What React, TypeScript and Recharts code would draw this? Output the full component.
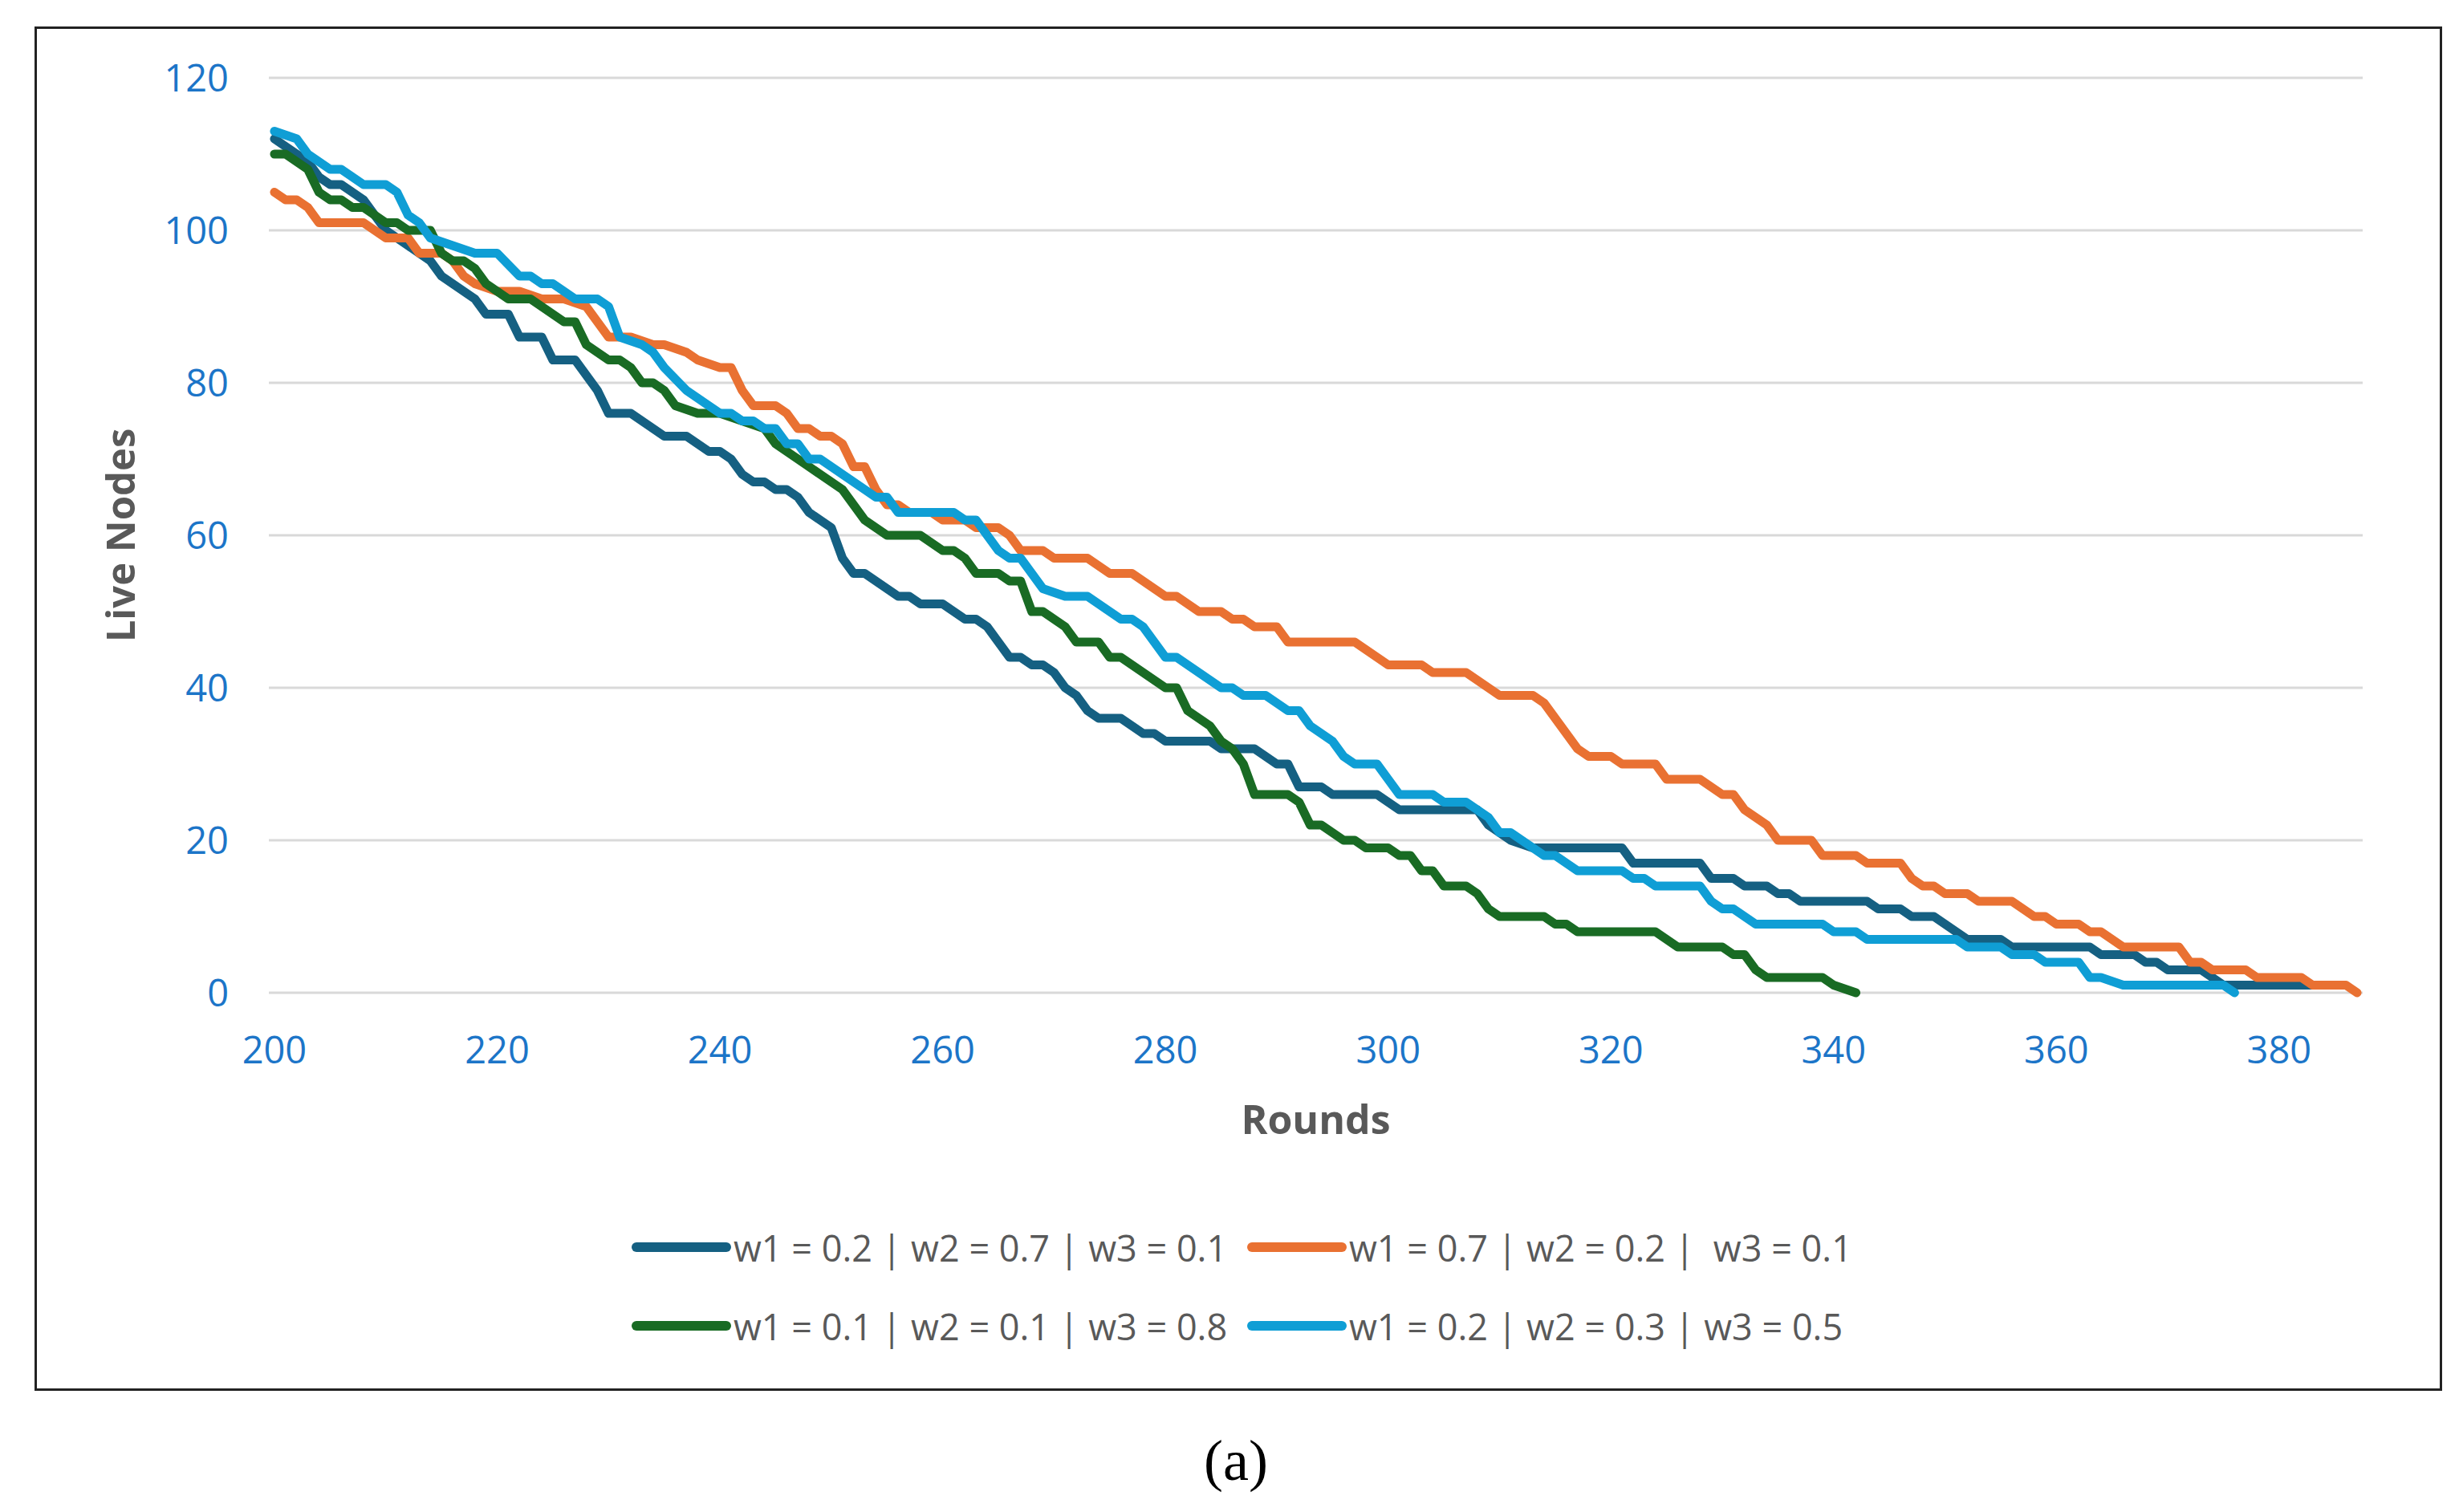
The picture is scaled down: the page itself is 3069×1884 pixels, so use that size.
import React from 'react';
import { LineChart, Line, XAxis, YAxis, CartesianGrid } from 'recharts';

// Page / plot geometry (px) for the 3069x1884 capture
const W = 3069;
const H = 1884;
const PLOT_TOP = 97;
const PLOT_BOTTOM = 1237;
const PLOT_LEFT = 335;
const PLOT_RIGHT = 2944;
const CHART_H = 1480;
const X_AXIS_H = 60;

const FONT = '"Open Sans", "Noto Sans", sans-serif';
const TICK_BLUE = '#1c75c8';
const TITLE_GREY = '#595959';

const xTicks = [200, 220, 240, 260, 280, 300, 320, 340, 360, 380];
const yTicks = [0, 20, 40, 60, 80, 100, 120];

const seriesNames = [
  'w1 = 0.2 | w2 = 0.7 | w3 = 0.1',
  'w1 = 0.7 | w2 = 0.2 |  w3 = 0.1',
  'w1 = 0.1 | w2 = 0.1 | w3 = 0.8',
  'w1 = 0.2 | w2 = 0.3 | w3 = 0.5',
];
const seriesColors = ['#156082', '#e97132', '#196b24', '#0f9ed5'];

// [round, live nodes] vertices
const darkBlue: [number, number][] = [
  [200, 112], [201, 111], [203, 109], [204, 107], [205, 106], [206, 106], [207, 105], [208, 104],
  [209, 102], [210, 100], [211, 99], [212, 98], [213, 97], [214, 96], [215, 94], [216, 93],
  [217, 92], [218, 91], [219, 89], [221, 89], [222, 86], [224, 86], [225, 83], [227, 83],
  [228, 81], [229, 79], [230, 76], [232, 76], [233, 75], [234, 74], [235, 73], [237, 73],
  [238, 72], [239, 71], [240, 71], [241, 70], [242, 68], [243, 67], [244, 67], [245, 66],
  [246, 66], [247, 65], [248, 63], [249, 62], [250, 61], [251, 57], [252, 55], [253, 55],
  [254, 54], [255, 53], [256, 52], [257, 52], [258, 51], [260, 51], [261, 50], [262, 49],
  [263, 49], [264, 48], [265, 46], [266, 44], [267, 44], [268, 43], [269, 43], [270, 42],
  [271, 40], [272, 39], [273, 37], [274, 36], [276, 36], [277, 35], [278, 34], [279, 34],
  [280, 33], [284, 33], [285, 32], [288, 32], [289, 31], [290, 30], [291, 30], [292, 27],
  [294, 27], [295, 26], [299, 26], [300, 25], [301, 24], [308, 24], [309, 22], [310, 21],
  [311, 20], [313, 19], [321, 19], [322, 17], [328, 17], [329, 15], [331, 15], [332, 14],
  [334, 14], [335, 13], [336, 13], [337, 12], [343, 12], [344, 11], [346, 11], [347, 10],
  [349, 10], [350, 9], [351, 8], [352, 7], [355, 7], [356, 6], [363, 6], [364, 5],
  [367, 5], [368, 4], [369, 4], [370, 3], [373, 3], [375, 1], [384, 1],
];

const orange: [number, number][] = [
  [200, 105], [201, 104], [202, 104], [203, 103], [204, 101], [208, 101], [209, 100], [210, 99],
  [212, 99], [213, 97], [215, 97], [216, 96], [217, 94], [218, 93], [220, 92], [222, 92],
  [224, 91], [226, 91], [228, 90], [229, 88], [230, 86], [232, 86], [234, 85], [235, 85],
  [237, 84], [238, 83], [240, 82], [241, 82], [242, 79], [243, 77], [245, 77], [246, 76],
  [247, 74], [248, 74], [249, 73], [250, 73], [251, 72], [252, 69], [253, 69], [254, 66],
  [255, 64], [256, 64], [257, 63], [259, 63], [260, 62], [262, 62], [263, 61], [265, 61],
  [266, 60], [267, 58], [269, 58], [270, 57], [273, 57], [275, 55], [277, 55], [278, 54],
  [280, 52], [281, 52], [282, 51], [283, 50], [285, 50], [286, 49], [287, 49], [288, 48],
  [290, 48], [291, 46], [297, 46], [298, 45], [299, 44], [300, 43], [303, 43], [304, 42],
  [307, 42], [308, 41], [309, 40], [310, 39], [313, 39], [314, 38], [315, 36], [316, 34],
  [317, 32], [318, 31], [320, 31], [321, 30], [324, 30], [325, 28], [328, 28], [329, 27],
  [330, 26], [331, 26], [332, 24], [333, 23], [334, 22], [335, 20], [338, 20], [339, 18],
  [342, 18], [343, 17], [346, 17], [347, 15], [348, 14], [349, 14], [350, 13], [352, 13],
  [353, 12], [356, 12], [357, 11], [358, 10], [359, 10], [360, 9], [362, 9], [363, 8],
  [364, 8], [365, 7], [366, 6], [371, 6], [372, 4], [373, 4], [374, 3], [377, 3],
  [378, 2], [382, 2], [383, 1], [386, 1], [387, 0],
];

const green: [number, number][] = [
  [200, 110], [201, 110], [203, 108], [204, 105], [205, 104], [206, 104], [207, 103], [208, 103],
  [209, 102], [210, 101], [211, 101], [212, 100], [214, 100], [215, 97], [216, 96], [217, 96],
  [218, 95], [219, 93], [220, 92], [221, 91], [223, 91], [224, 90], [225, 89], [226, 88],
  [227, 88], [228, 85], [229, 84], [230, 83], [231, 83], [232, 82], [233, 80], [234, 80],
  [235, 79], [236, 77], [238, 76], [240, 76], [242, 75], [244, 74], [245, 72], [246, 71],
  [247, 70], [248, 69], [249, 68], [250, 67], [251, 66], [252, 64], [253, 62], [254, 61],
  [255, 60], [258, 60], [259, 59], [260, 58], [261, 58], [262, 57], [263, 55], [265, 55],
  [266, 54], [267, 54], [268, 50], [269, 50], [270, 49], [271, 48], [272, 46], [274, 46],
  [275, 44], [276, 44], [277, 43], [278, 42], [279, 41], [280, 40], [281, 40], [282, 37],
  [283, 36], [284, 35], [285, 33], [286, 32], [287, 30], [288, 26], [291, 26], [292, 25],
  [293, 22], [294, 22], [295, 21], [296, 20], [297, 20], [298, 19], [300, 19], [301, 18],
  [302, 18], [303, 16], [304, 16], [305, 14], [307, 14], [308, 13], [309, 11], [310, 10],
  [314, 10], [315, 9], [316, 9], [317, 8], [324, 8], [325, 7], [326, 6], [330, 6],
  [331, 5], [332, 5], [333, 3], [334, 2], [339, 2], [340, 1], [342, 0],
];

const cyan: [number, number][] = [
  [200, 113], [202, 112], [203, 110], [205, 108], [206, 108], [207, 107], [208, 106], [210, 106],
  [211, 105], [212, 102], [213, 101], [214, 99], [216, 98], [218, 97], [220, 97], [222, 94],
  [223, 94], [224, 93], [225, 93], [227, 91], [229, 91], [230, 90], [231, 86], [233, 85],
  [234, 84], [235, 82], [237, 79], [238, 78], [239, 77], [240, 76], [241, 76], [242, 75],
  [243, 75], [244, 74], [245, 74], [246, 72], [247, 72], [248, 70], [249, 70], [250, 69],
  [251, 68], [252, 67], [253, 66], [254, 65], [255, 65], [256, 63], [261, 63], [262, 62],
  [263, 62], [264, 60], [265, 58], [266, 57], [267, 57], [268, 55], [269, 53], [271, 52],
  [273, 52], [274, 51], [275, 50], [276, 49], [277, 49], [278, 48], [279, 46], [280, 44],
  [281, 44], [282, 43], [283, 42], [284, 41], [285, 40], [286, 40], [287, 39], [289, 39],
  [290, 38], [291, 37], [292, 37], [293, 35], [294, 34], [295, 33], [296, 31], [297, 30],
  [299, 30], [300, 28], [301, 26], [304, 26], [305, 25], [307, 25], [308, 24], [309, 23],
  [310, 21], [311, 21], [312, 20], [313, 19], [314, 18], [315, 18], [316, 17], [317, 16],
  [321, 16], [322, 15], [323, 15], [324, 14], [328, 14], [329, 12], [330, 11], [331, 11],
  [332, 10], [333, 9], [339, 9], [340, 8], [342, 8], [343, 7], [351, 7], [352, 6],
  [355, 6], [356, 5], [358, 5], [359, 4], [362, 4], [363, 2], [364, 2], [366, 1],
  [375, 1], [376, 0],
];

const allSeries = [darkBlue, orange, green, cyan];

const toPoints = (pts: [number, number][]) => pts.map(([round, nodes]) => ({ round, nodes }));

const roundsTitle = () => (
  <text
    x={(PLOT_LEFT + PLOT_RIGHT) / 2}
    y={1413}
    textAnchor="middle"
    fill={TITLE_GREY}
    fontSize={50}
    fontWeight={700}
    fontFamily={FONT}
  >
    Rounds
  </text>
);

const nodesTitle = () => {
  const cx = 168;
  const cy = (PLOT_TOP + PLOT_BOTTOM) / 2;
  return (
    <text
      x={cx}
      y={cy}
      transform={`rotate(-90 ${cx} ${cy})`}
      textAnchor="middle"
      fill={TITLE_GREY}
      fontSize={49}
      fontWeight={700}
      fontFamily={FONT}
    >
      Live Nodes
    </text>
  );
};

// legend grid: two rows, two columns (Excel wraps it this way)
const legendCols = [787, 1554];
const legendRows = [1554, 1652];

function LegendBlock() {
  return (
    <>
      {seriesNames.map((name, i) => {
        const left = legendCols[i % 2];
        const cy = legendRows[Math.floor(i / 2)];
        return (
          <div
            key={name}
            style={{
              position: 'absolute', left, top: cy - 35, height: 70,
              display: 'flex', alignItems: 'center', whiteSpace: 'pre',
              fontFamily: FONT, fontSize: 45, color: TITLE_GREY,
            }}
          >
            <svg width={124} height={20} style={{ display: 'block' }}>
              <line x1={6} y1={10} x2={118} y2={10} stroke={seriesColors[i]} strokeWidth={12} strokeLinecap="round" />
            </svg>
            <span style={{ marginLeft: 3 }}>{name}</span>
          </div>
        );
      })}
    </>
  );
}

export default function App() {
  return (
    <div style={{ position: 'absolute', left: 0, top: 0, width: W, height: H, background: '#fff' }}>
      {/* outer frame */}
      <div
        style={{
          position: 'absolute', left: 43, top: 33, width: 3000, height: 1700,
          border: '3px solid #222', boxSizing: 'border-box',
        }}
      />

      <div style={{ position: 'absolute', left: 0, top: 0 }}>
        <LineChart
          width={W}
          height={CHART_H}
          margin={{ top: PLOT_TOP, right: W - PLOT_RIGHT, bottom: CHART_H - PLOT_BOTTOM - X_AXIS_H, left: 0 }}
        >
          <CartesianGrid vertical={false} stroke="#d9d9d9" strokeWidth={3} />
          <XAxis
            type="number"
            dataKey="round"
            domain={[199.5, 387.5]}
            ticks={xTicks}
            interval={0}
            allowDataOverflow
            height={X_AXIS_H}
            axisLine={false}
            tickLine={false}
            tickSize={0}
            tickMargin={55}
            tick={{ fill: TICK_BLUE, fontSize: 47, fontFamily: FONT }}
            label={roundsTitle}
          />
          <YAxis
            type="number"
            domain={[0, 120]}
            ticks={yTicks}
            interval={0}
            width={PLOT_LEFT}
            axisLine={false}
            tickLine={false}
            tickSize={0}
            tickMargin={50}
            tick={{ fill: TICK_BLUE, fontSize: 47, fontFamily: FONT }}
            label={nodesTitle}
          />
          {allSeries.map((pts, i) => (
            <Line
              key={seriesNames[i]}
              data={toPoints(pts)}
              dataKey="nodes"
              name={seriesNames[i]}
              type="linear"
              stroke={seriesColors[i]}
              strokeWidth={11}
              strokeLinejoin="round"
              strokeLinecap="round"
              dot={false}
              activeDot={false}
              isAnimationActive={false}
            />
          ))}
        </LineChart>
      </div>

      <LegendBlock />

      {/* sub-figure caption */}
      <div
        style={{
          position: 'absolute', left: 0, width: 3080, top: 1784, textAlign: 'center',
          fontFamily: '"Liberation Serif", "Times New Roman", serif', fontSize: 72, lineHeight: 1, color: '#000',
        }}
      >
        (a)
      </div>
    </div>
  );
}
